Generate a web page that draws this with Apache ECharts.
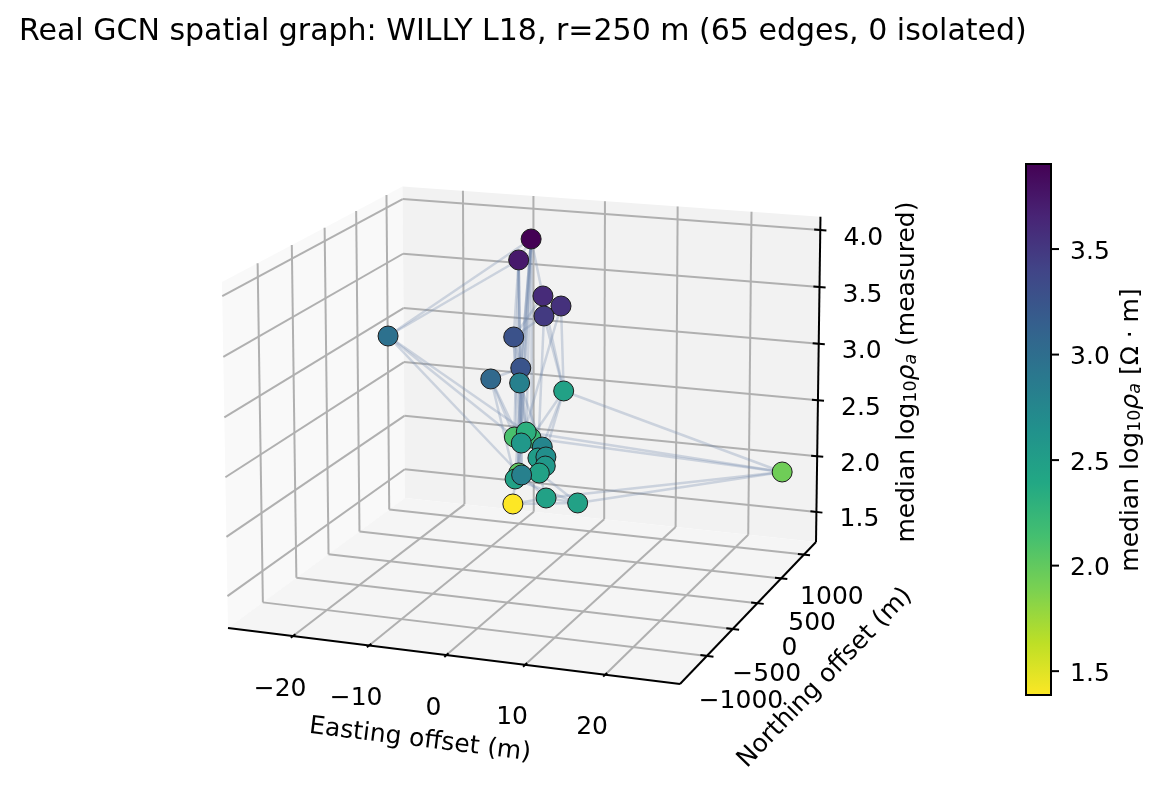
<!DOCTYPE html>
<html><head><meta charset="utf-8"><style>html,body{margin:0;padding:0;background:#fff}#c{width:1164px;height:807px}</style>
<script src="https://cdn.jsdelivr.net/npm/echarts@6/dist/echarts.min.js"></script></head><body><div id="c"></div>
<script>
// ---- data ----
const titleText = 'Real GCN spatial graph: WILLY L18, r=250 m (65 edges, 0 isolated)';
const easting  = [-6.4,-7.6,-0.7,2.2,0.5,-3.7,2.0,-3.6,-4.0,-3.9,-25.6,26.1,-8.8,-5.3,-4.5,1.2,7.8,4.5,7.9,7.4,6.0,-4.3,4.1,10.4,-11.3,10.3,14.5];
const northing = [758,690,218,154,77,95,-523,-312,236,1025,645,1010,761,609,417,-412,-920,-559,-872,-816,-733,256,-894,-1603,1054,-1188,-1218];
const logRho   = [3.9,3.73,3.6,3.55,3.48,3.27,3.25,3.05,2.82,2.47,2.97,1.94,2.12,2.19,2.32,2.57,2.77,2.52,2.67,2.57,2.47,2.02,2.47,2.82,1.38,2.47,2.47];
const edgeFrom = [10,10,10,10,10,11,11,11,11,11,0,0,0,0,0,0,1,0,1,1,1,0,0,1,2,2,3,3,4,4,4,5,5,5,6,6,6,6,7,7,7,8,8,8,9,9,9,12,13,14,15,16,17,18,19,20,21,22,22,23,24,24,25,20,22];
const edgeTo   = [0,1,12,14,21,9,13,14,26,25,1,2,8,14,15,13,5,6,8,12,15,21,22,23,9,5,9,15,5,9,17,6,15,21,7,8,14,23,12,15,22,14,21,16,13,17,20,14,16,15,22,18,19,19,20,25,22,24,23,25,25,26,26,26,26];
const xTicks = [-20,-10,0,10,20];
const yTicks = [-1000,-500,0,500,1000];
const zTicks = [1.5,2,2.5,3,3.5,4];
const cbTicks = [1.5,2,2.5,3,3.5];
const xLim = [-28.7,29.2], yLim = [-1500,1273];
const cbLim = [1.387,3.903];
const viridisR = ['#fde725','#bddf26','#7ad151','#44bf70','#22a884','#21918c','#2a788e','#355f8d','#414487','#482475','#440154'];

// ---- 3-D view: perspective map of the plot box on to the page plane ----
const V={a:418.94,b:223.92,c:228,d:22.75,e:-72.31,f:628,g:-0.04861,h:0.11584,i:-0.018,m1:-10,m2:-351,t0:0.0937,tr:0.3465};
function proj(E,N,Z){
  const u=(E-xLim[0])/(xLim[1]-xLim[0]), v=(N-yLim[0])/(yLim[1]-yLim[0]), t=V.t0+(Z-1.5)*V.tr;
  const w=V.g*u+V.h*v+V.i*t+1;
  return [(V.a*u+V.b*v+V.c+V.m1*t)/w,(V.d*u+V.e*v+V.f+V.m2*t)/w];
}
const [x0,x1]=xLim,[y0,y1]=yLim,z0=1.5-V.t0/V.tr,z1=1.5+(1-V.t0)/V.tr;
const seg=(p,q)=>({coords:[p,q]});

const panes=[
 {c:'#f9f9f9',p:[[x0,y0,z0],[x0,y1,z0],[x0,y1,z1],[x0,y0,z1]]},
 {c:'#f2f2f2',p:[[x0,y1,z0],[x1,y1,z0],[x1,y1,z1],[x0,y1,z1]]},
 {c:'#f5f5f5',p:[[x0,y0,z0],[x1,y0,z0],[x1,y1,z0],[x0,y1,z0]]}
];
const gridSegs=[];
xTicks.forEach(E=>{gridSegs.push(seg(proj(E,y0,z0),proj(E,y1,z0)),seg(proj(E,y1,z0),proj(E,y1,z1)));});
yTicks.forEach(N=>{gridSegs.push(seg(proj(x1,N,z0),proj(x0,N,z0)),seg(proj(x0,N,z0),proj(x0,N,z1)));});
zTicks.forEach(Z=>{gridSegs.push(seg(proj(x1,y1,Z),proj(x0,y1,Z)),seg(proj(x0,y1,Z),proj(x0,y0,Z)));});
const axisSegs=[seg(proj(x0,y0,z0),proj(x1,y0,z0)),seg(proj(x1,y0,z0),proj(x1,y1,z0)),seg(proj(x1,y1,z0),proj(x1,y1,z1))];
const dx=(x1-x0)*0.014,dy=(y1-y0)*0.012;
xTicks.forEach(E=>axisSegs.push(seg(proj(E,y0-dy,z0),proj(E,y0+dy,z0))));
yTicks.forEach(N=>axisSegs.push(seg(proj(x1-dx,N,z0),proj(x1+dx,N,z0))));
zTicks.forEach(Z=>axisSegs.push(seg(proj(x1-dx,y1,Z),proj(x1+dx,y1,Z))));
const edgeSegs=edgeFrom.map((s,k)=>{const o=edgeTo[k];return seg(proj(easting[s],northing[s],logRho[s]),proj(easting[o],northing[o],logRho[o]));});
const nodes=easting.map((E,k)=>{const p=proj(E,northing[k],logRho[k]);return [p[0],p[1],logRho[k]];});

const FONT='"DejaVu Sans"',FS=25;
const mk=(pos,text,offset)=>({value:pos,label:{show:true,position:'inside',formatter:text,offset:offset,color:'#000',fontFamily:FONT,fontSize:FS}});
const fmtTick=v=>String(v).replace('-','\u2212');
const yOff=[[34,46],[34,46],[32,45],[31,45],[28,43]];
const tickLabels=[
 ...xTicks.map(E=>mk(proj(E,y0,z0),fmtTick(E),[-13,53])),
 ...yTicks.map((N,k)=>mk(proj(x1,N,z0),fmtTick(N),yOff[k])),
 ...zTicks.map(Z=>mk(proj(x1,y1,Z),Z.toFixed(1),[43,8]))
];
const cbLabels=cbTicks.map(v=>mk([1,v],v.toFixed(1),[39,3]));
const richLabel={n:{fontFamily:FONT,fontSize:FS,fill:'#000',color:'#000'},
 s:{fontFamily:FONT,fontSize:17.5,fill:'#000',color:'#000',verticalAlign:'bottom',lineHeight:26},
 i:{fontFamily:FONT,fontSize:FS,fontStyle:'italic',fill:'#000',color:'#000'},
 j:{fontFamily:FONT,fontSize:17.5,fontStyle:'italic',fill:'#000',color:'#000',verticalAlign:'bottom',lineHeight:26}};

const chart=echarts.init(document.getElementById('c'),null,{renderer:'canvas'});
chart.setOption({
 animation:false,backgroundColor:'#fff',
 title:{text:titleText,left:14,top:12,textStyle:{fontFamily:FONT,fontSize:30,fontWeight:'normal',color:'#000'}},
 grid:[{left:0,top:0,width:1164,height:807},{left:1026,top:164,width:25,height:531}],
 xAxis:[{type:'value',min:0,max:1164,show:false,gridIndex:0},{type:'value',min:0,max:1,show:false,gridIndex:1}],
 yAxis:[{type:'value',min:0,max:807,inverse:true,show:false,gridIndex:0},
  {type:'value',gridIndex:1,min:cbLim[0],max:cbLim[1],show:false}],
 visualMap:{show:false,dimension:2,seriesIndex:4,min:cbLim[0],max:cbLim[1],inRange:{color:viridisR}},
 series:[
  {type:'custom',coordinateSystem:'cartesian2d',xAxisIndex:0,yAxisIndex:0,z:1,silent:true,clip:false,
   data:panes.map((_,k)=>[k]),encode:{x:0},
   renderItem:(p,api)=>{const q=panes[api.value(0)];return {type:'polygon',shape:{points:q.p.map(r=>api.coord(proj(r[0],r[1],r[2])))},style:{fill:q.c}};}},
  {type:'lines',coordinateSystem:'cartesian2d',xAxisIndex:0,yAxisIndex:0,z:2,silent:true,data:gridSegs,
   lineStyle:{color:'#b0b0b0',width:2,opacity:1}},
  {type:'lines',coordinateSystem:'cartesian2d',xAxisIndex:0,yAxisIndex:0,z:3,silent:true,data:axisSegs,
   lineStyle:{color:'#000',width:2,opacity:1}},
  {type:'lines',coordinateSystem:'cartesian2d',xAxisIndex:0,yAxisIndex:0,z:4,silent:true,data:edgeSegs,
   lineStyle:{color:'#7088ab',width:2.5,opacity:0.3}},
  {type:'scatter',coordinateSystem:'cartesian2d',xAxisIndex:0,yAxisIndex:0,z:5,silent:true,symbolSize:20,data:nodes,
   itemStyle:{borderColor:'#1c1c1c',borderWidth:1,opacity:1}},
  {type:'scatter',coordinateSystem:'cartesian2d',xAxisIndex:0,yAxisIndex:0,z:6,silent:true,symbolSize:0,itemStyle:{opacity:1},data:tickLabels},
  {type:'custom',coordinateSystem:'cartesian2d',xAxisIndex:1,yAxisIndex:1,z:5,silent:true,clip:false,data:[[0]],encode:{x:0},
   renderItem:(p,api)=>{const a=api.coord([0,cbLim[1]]),b=api.coord([1,cbLim[0]]);
    const ticks=cbTicks.map(v=>{const q=api.coord([1,v]);return {type:'line',shape:{x1:q[0],y1:q[1],x2:q[0]+8,y2:q[1]},style:{stroke:'#000',lineWidth:2}};});
    return {type:'group',children:[{type:'rect',shape:{x:a[0],y:a[1],width:b[0]-a[0],height:b[1]-a[1]},
     style:{stroke:'#000',lineWidth:2,fill:new echarts.graphic.LinearGradient(0,1,0,0,viridisR.map((c,k)=>({offset:k/(viridisR.length-1),color:c})))}},...ticks]};}},
  {type:'scatter',coordinateSystem:'cartesian2d',xAxisIndex:1,yAxisIndex:1,z:6,silent:true,symbolSize:0,clip:false,itemStyle:{opacity:1},data:cbLabels}
 ],
 graphic:[
  {type:'text',x:420,y:740,rotation:-7*Math.PI/180,style:{text:'Easting offset (m)',font:FS+'px '+FONT,fill:'#000',textAlign:'center',textVerticalAlign:'middle'}},
  {type:'text',x:825,y:678,rotation:46*Math.PI/180,style:{text:'Northing offset (m)',font:FS+'px '+FONT,fill:'#000',textAlign:'center',textVerticalAlign:'middle'}},
  {type:'text',x:907,y:372,rotation:Math.PI/2,style:{text:'{n|median log}{s|10}{i|\u03C1}{j|a}{n| (measured)}',rich:richLabel,textAlign:'center',textVerticalAlign:'middle'}},
  {type:'text',x:1131,y:430,rotation:Math.PI/2,style:{text:'{n|median log}{s|10}{i|\u03C1}{j|a}{n| [\u03A9 \u00B7 m]}',rich:richLabel,textAlign:'center',textVerticalAlign:'middle'}}
 ]
});
</script></body></html>
